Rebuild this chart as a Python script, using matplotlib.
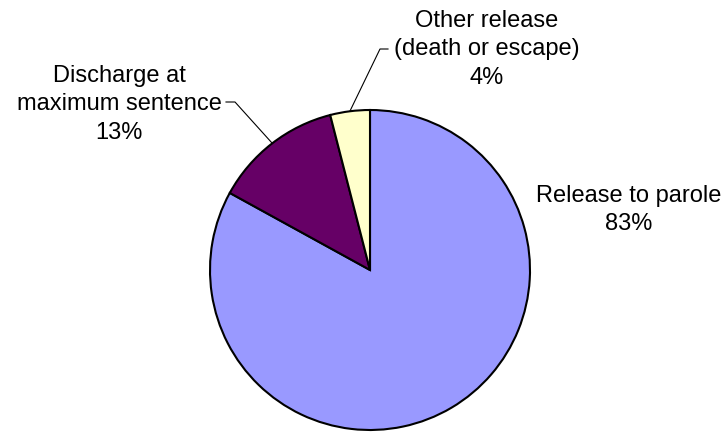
import matplotlib
matplotlib.use("Agg")
import matplotlib.pyplot as plt
import numpy as np

categories = ["Release to parole", "Discharge at\nmaximum sentence", "Other release\n(death or escape)"]
shares = [83, 13, 4]
colors = ["#9999FF", "#660066", "#FFFFCC"]

plt.rcParams['font.family'] = ['Liberation Sans', 'DejaVu Sans']

W, H = 728, 435
fig = plt.figure(figsize=(W / 100, H / 100), dpi=100)
ax = fig.add_axes([0, 0, 1, 1])

cx, cy, r = 370, 271, 160
ax.pie(shares, colors=colors, startangle=90, counterclock=False,
       center=(cx, H - cy), radius=r,
       wedgeprops=dict(edgecolor="black", linewidth=1.5))
ax.set_xlim(0, W)
ax.set_ylim(0, H)
ax.set_aspect("equal")
ax.axis("off")

# label layout: (center x, first baseline y in pixel coords from top)
label_pos = [(629, 202), (119, 82), (487, 27)]
line_gap = 28.5
for cat, val, (lx, ly) in zip(categories, shares, label_pos):
    lines = cat.split("\n") + [f"{val}%"]
    for i, line in enumerate(lines):
        ax.text(lx, H - (ly + i * line_gap), line, ha="center", va="baseline",
                fontsize=17, color="black")

# leader lines (pixel coords from top)
leaders = [
    [(226, 103), (235, 103), (272, 144)],
    [(388, 50), (380, 50), (350, 112)],
]
for pts in leaders:
    xs = [p[0] for p in pts]
    ys = [H - p[1] for p in pts]
    ax.plot(xs, ys, color="black", linewidth=0.8)

fig.savefig("out.png", dpi=100)
